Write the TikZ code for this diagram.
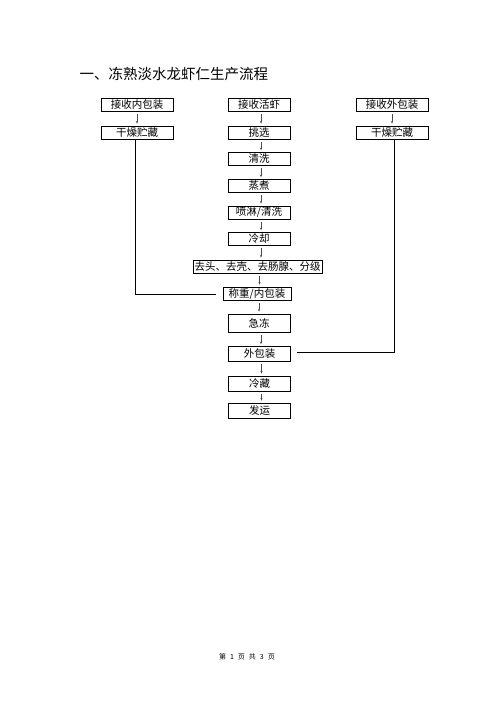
\documentclass[tikz,border=0pt]{standalone}
\usepackage{fontspec}
\newfontfamily\cjk{Noto Sans CJK SC}
\usetikzlibrary{arrows.meta}
\begin{document}
\begin{tikzpicture}[x=1pt,y=-1pt,
  boxstyle/.style={draw,line width=0.8pt,inner sep=0pt,minimum height=13pt,
    font=\cjk\fontsize{10.5}{12}\selectfont},
  mainbox/.style={boxstyle,minimum width=62pt},
  sidebox/.style={boxstyle,minimum width=72pt},
  flowarrow/.style={line width=0.5pt,draw=black!70,-{Stealth[length=2.6pt,width=2.2pt]},shorten <=2.5pt,shorten >=2pt},
  joinline/.style={line width=0.8pt}]
\useasboundingbox (0,0) rectangle (496,702);
\node[anchor=west,font=\cjk\fontsize{14.5}{16}\selectfont] (title) at (76,74) {一、冻熟淡水龙虾仁生产流程};

% left column
\node[sidebox] (lrecv) at (137,105) {接收内包装};
\node[sidebox] (ldry) at (137,132.5) {干燥贮藏};
% right column
\node[sidebox] (rrecv) at (392,105) {接收外包装};
\node[sidebox] (rdry) at (392,132.5) {干燥贮藏};
% main column
\node[mainbox] (m1) at (259,105) {接收活虾};
\node[mainbox] (m2) at (259,132.5) {挑选};
\node[mainbox] (m3) at (259,159) {清洗};
\node[mainbox] (m4) at (259,186) {蒸煮};
\node[mainbox] (m5) at (259,212.5) {喷淋/清洗};
\node[mainbox] (m6) at (259,239) {冷却};
\node[boxstyle,minimum width=129pt] (m7) at (257.5,266.5) {去头、去壳、去肠腺、分级};
\node[boxstyle,minimum width=68pt] (m8) at (257,293.5) {称重/内包装};
\node[mainbox,minimum height=18pt] (m9) at (259,323) {急冻};
\node[mainbox,minimum height=15pt] (m10) at (259.5,354) {外包装};
\node[mainbox,minimum height=15pt] (m11) at (259.5,383.5) {冷藏};
\node[mainbox,minimum height=15pt] (m12) at (259.5,410.5) {发运};

\node[font=\cjk\fontsize{7}{8}\selectfont] (footer) at (247,657)
  {第\hspace{4pt}1\hspace{4pt}页\hspace{4pt}共\hspace{4pt}3\hspace{4pt}页};

% arrows
\draw[flowarrow] (lrecv) -- (ldry);
\draw[flowarrow] (rrecv) -- (rdry);
\foreach \a/\b in {m1/m2,m2/m3,m3/m4,m4/m5,m5/m6,m6/m7,m7/m8,m8/m9,m9/m10,m10/m11,m11/m12}
  \draw[flowarrow] ([xshift=2pt]\a.south) -- ([xshift=2pt]\a.south |- \b.north);

% join lines
\coordinate (lend) at (216,294);
\coordinate (rend) at (297,352);
\draw[joinline] ([xshift=-2pt]ldry.south) |- (lend);
\draw[joinline] ([xshift=2pt]rdry.south) |- (rend);
\end{tikzpicture}
\end{document}
